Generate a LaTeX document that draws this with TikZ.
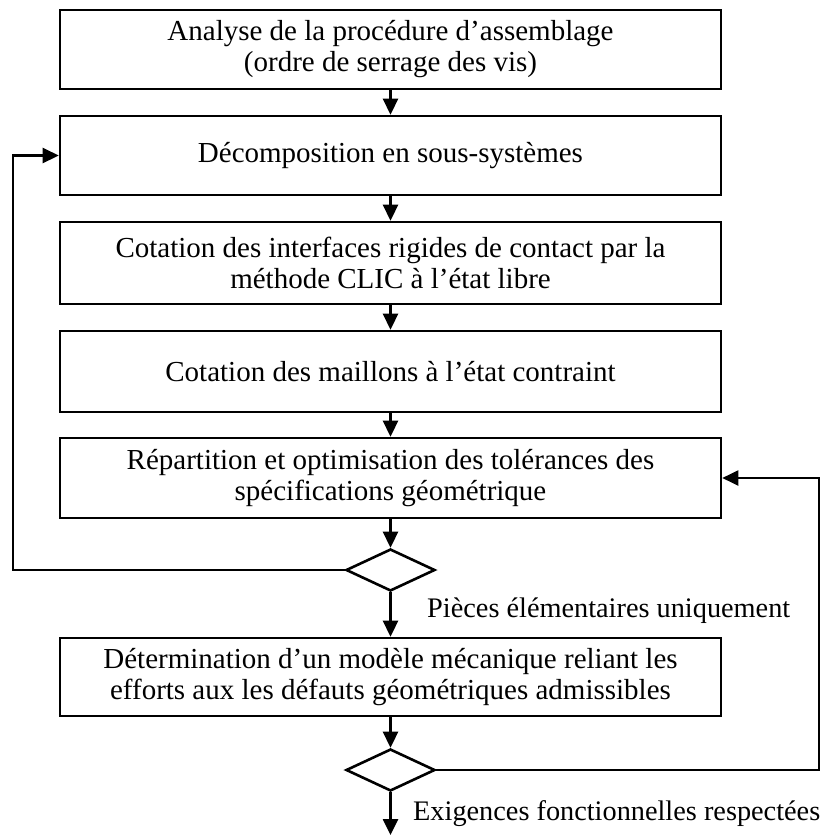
\documentclass[tikz,border=0pt]{standalone}
\usepackage{fontspec}
\setmainfont{Liberation Serif}
\usetikzlibrary{shapes.geometric,arrows.meta}
\begin{document}
\begin{tikzpicture}[x=1pt,y=-1pt,
  every node/.style={font=\fontsize{29}{31}\selectfont},
  stepbox/.style={draw,line width=2.6pt,minimum width=661pt,inner sep=0pt,align=center},
  decision/.style={draw,shape=diamond,line width=2.6pt,aspect=2.1,minimum width=89pt,minimum height=42pt,inner sep=0pt},
  flow/.style={line width=2.6pt,-{Triangle[width=15pt,length=16pt]}},
  loopflow/.style={line width=2pt,-{Triangle[width=15pt,length=16pt]}},
  lbl/.style={inner sep=0pt,anchor=base west,font=\fontsize{28.3}{31}\selectfont}]
\useasboundingbox (0,0) rectangle (835,836);
\node[stepbox,minimum height=79pt] (b1) at (390.5,49.5) {Analyse de la procédure d’assemblage\\(ordre de serrage des vis)};
\node[stepbox,minimum height=79pt] (b2) at (390.5,155.5) {Décomposition en sous-systèmes};
\node[stepbox,minimum height=82pt] (b3) at (390.5,263) {Cotation des interfaces rigides de contact par la\\méthode CLIC à l’état libre};
\node[stepbox,minimum height=81pt] (b4) at (390.5,371.5) {Cotation des maillons à l’état contraint};
\node[stepbox,minimum height=80pt] (b5) at (390.5,478) {Répartition et optimisation des tolérances des\\spécifications géométrique};
\node[decision] (d1) at (390.5,570) {};
\node[stepbox,minimum height=78pt] (b6) at (390.5,677) {Détermination d’un modèle mécanique reliant les\\efforts aux les défauts géométriques admissibles};
\node[decision] (d2) at (390.5,770) {};
\coordinate (end) at (390.5,835);
\coordinate (lx) at (13,0);
\coordinate (rx) at (819,0);
\node[lbl] (l1) at (427,617) {Pièces élémentaires uniquement};
\node[lbl] (l2) at (413,820) {Exigences fonctionnelles respectées};
\draw[flow] (b1) -- (b2);
\draw[flow] (b2) -- (b3);
\draw[flow] (b3) -- (b4);
\draw[flow] (b4) -- (b5);
\draw[flow] (b5) -- (d1);
\draw[flow] (d1) -- (b6);
\draw[flow] (b6) -- (d2);
\draw[flow] (d2) -- (end);
\draw[flow] (d1.west) -- (d1.west -| lx) -- (b2.west -| lx) -- (b2.west);
\draw[loopflow] (d2.east) -- (d2.east -| rx) -- (b5.east -| rx) -- (b5.east);
\end{tikzpicture}
\end{document}
